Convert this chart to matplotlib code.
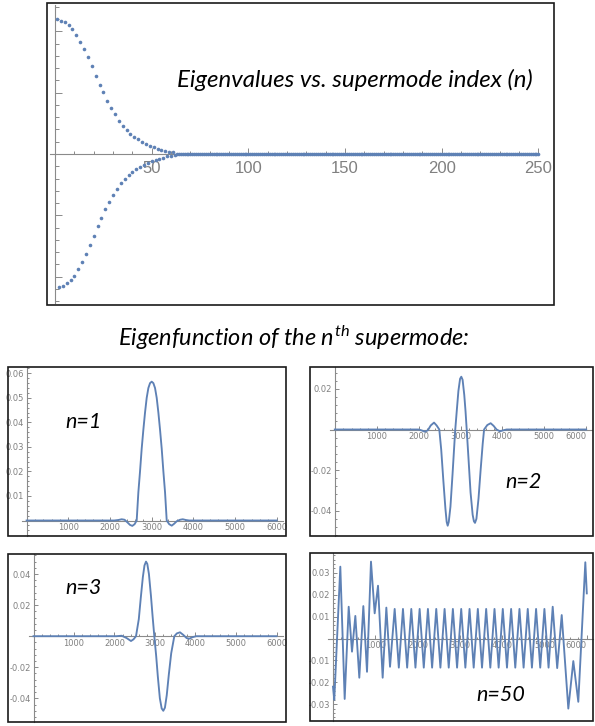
import matplotlib
matplotlib.use('Agg')
import matplotlib.pyplot as plt
from matplotlib.patches import Rectangle
from matplotlib.ticker import FixedLocator, MultipleLocator

W, H = 595, 726

# eigenvalues vs supermode index (arbitrary units): upper branch (odd n), lower branch (even n)
upper_n = list(range(1, 62, 2))
upper_vals = [2.20, 2.17, 2.15, 2.11, 2.04, 1.94, 1.83, 1.71, 1.58, 1.43, 1.28,
              1.13, 1.01, 0.86, 0.75, 0.65, 0.54, 0.45, 0.39, 0.33, 0.28, 0.24,
              0.20, 0.16, 0.13, 0.11, 0.08, 0.07, 0.05, 0.04, 0.03]
lower_n = list(range(2, 63, 2))
lower_vals = [-2.17, -2.15, -2.11, -2.05, -1.99, -1.88, -1.76, -1.63, -1.48, -1.33,
              -1.18, -1.05, -0.90, -0.78, -0.67, -0.57, -0.48, -0.40, -0.34, -0.29,
              -0.24, -0.21, -0.18, -0.15, -0.12, -0.10, -0.08, -0.06, -0.04, -0.03, -0.02]
flat_n = list(range(63, 251))
flat_vals = [0.0] * len(flat_n)

# eigenfunctions (position, amplitude)
x1 = [0, 2000, 2100, 2200, 2280, 2350, 2420, 2480, 2535, 2590, 2640, 2680, 2720,
      2760, 2800, 2840, 2880, 2920, 2960, 3000, 3040, 3080, 3120, 3160, 3200,
      3240, 3280, 3320, 3360, 3420, 3480, 3540, 3600, 3680, 3745, 3820, 3900, 6000]
y1 = [0, 0, 0, 0.0002, 0.0005, 0.0003, -0.0008, -0.0018, -0.0022, -0.0015, 0.0,
      0.0115, 0.0200, 0.0293, 0.0370, 0.0440, 0.0500, 0.0540, 0.0560, 0.0566,
      0.0560, 0.0540, 0.0500, 0.0440, 0.0370, 0.0293, 0.0200, 0.0115, 0.0,
      -0.0015, -0.0021, -0.0013, -0.0003, 0.0003, 0.0005, 0.0002, 0, 0]

x2 = [0, 2000, 2080, 2148, 2220, 2290, 2368, 2430, 2494, 2540, 2590, 2640, 2670,
      2694, 2720, 2760, 2810, 2845, 2875, 2910, 2950, 2990, 3019, 3050, 3090,
      3120, 3148, 3190, 3240, 3290, 3320, 3346, 3380, 3430, 3480, 3530, 3563,
      3640, 3720, 3790, 3860, 3942, 4020, 4100, 6000]
y2 = [0, 0, -0.0005, -0.0011, -0.0004, 0.0020, 0.0034, 0.0020, 0.0, -0.010,
      -0.025, -0.039, -0.0455, -0.0474, -0.0455, -0.038, -0.022, -0.010, 0.0,
      0.009, 0.019, 0.025, 0.026, 0.0245, 0.017, 0.009, 0.0, -0.014, -0.031,
      -0.042, -0.0452, -0.046, -0.044, -0.034, -0.020, -0.007, 0.0, 0.0022,
      0.0031, 0.0018, 0.0, -0.0009, -0.0004, 0, 0]

x3 = [0, 2050, 2177, 2300, 2407, 2470, 2531, 2600, 2650, 2700, 2740, 2778, 2810,
      2850, 2900, 2940, 2983, 3030, 3070, 3120, 3165, 3205, 3245, 3290, 3340,
      3400, 3477, 3540, 3617, 3700, 3780, 3847, 3930, 4020, 6000]
y3 = [0, 0, 0.0003, -0.0012, -0.0031, -0.0020, 0.0, 0.011, 0.025, 0.038, 0.0455,
      0.048, 0.0465, 0.040, 0.026, 0.013, 0.0, -0.013, -0.026, -0.040, -0.0465,
      -0.048, -0.046, -0.038, -0.025, -0.011, 0.0, 0.0018, 0.0025, 0.0008,
      -0.0012, -0.0016, -0.0006, 0, 0]

x50 = [0, 30, 173, 276, 371, 449, 528, 622, 717, 804, 898, 985, 1064, 1174, 1261,
       1348, 1458, 1556, 1654, 1753, 1851, 1949, 2048, 2146, 2244, 2343, 2441,
       2539, 2638, 2736, 2834, 2933, 3031, 3129, 3228, 3326, 3424, 3523, 3621,
       3719, 3818, 3916, 4014, 4113, 4211, 4309, 4408, 4506, 4604, 4703, 4801,
       4899, 4998, 5096, 5194, 5300, 5407, 5563, 5681, 5799, 5965, 6000]
y50 = [-0.022, -0.028, 0.0328, -0.0276, 0.0145, -0.006, 0.0103, -0.0179, 0.0148,
       -0.0152, 0.0351, 0.0115, 0.0241, -0.0179, 0.0141, -0.0129, 0.0135, -0.0133,
       0.0135, -0.0133, 0.0135, -0.0133, 0.0135, -0.0133, 0.0135, -0.0133, 0.0135,
       -0.0133, 0.0135, -0.0133, 0.0135, -0.0133, 0.0135, -0.0133, 0.0135, -0.0133,
       0.0135, -0.0133, 0.0135, -0.0133, 0.0135, -0.0133, 0.0135, -0.0133, 0.0135,
       -0.0133, 0.0135, -0.0133, 0.0135, -0.0133, 0.0135, -0.0133, 0.0135, -0.0133,
       0.0145, -0.0135, 0.0107, -0.0320, -0.0103, -0.0289, 0.0348, 0.0206]

blue = '#5E81B5'
gray = '#8a8a8a'
labgray = '#808080'

plt.rcParams['mathtext.fontset'] = 'custom'
plt.rcParams['mathtext.rm'] = 'Lato:italic'
plt.rcParams['mathtext.it'] = 'Lato:italic'

fig = plt.figure(figsize=(W / 100, H / 100), dpi=100)


def box(x0, y0, x1, y1):
    return [x0 / W, 1 - y1 / H, (x1 - x0) / W, (y1 - y0) / H]


def frame(x0, y0, x1, y1):
    fig.add_artist(Rectangle((x0 / W, 1 - y1 / H), (x1 - x0) / W, (y1 - y0) / H,
                             transform=fig.transFigure, fill=False,
                             ec='#1a1a1a', lw=1.2, zorder=10))


def mma_axes(px, xlim, ylim):
    ax = fig.add_axes(box(*px))
    ax.set_xlim(xlim)
    ax.set_ylim(ylim)
    ax.patch.set_alpha(0)
    ax.spines['top'].set_visible(False)
    ax.spines['right'].set_visible(False)
    ax.spines['left'].set_position(('data', 0))
    ax.spines['bottom'].set_position(('data', 0))
    for s in ['left', 'bottom']:
        ax.spines[s].set_color(gray)
        ax.spines[s].set_linewidth(0.8)
    ax.tick_params(which='both', direction='in', color=gray, labelcolor=labgray,
                   width=0.7)
    return ax


def text(x, y, s, size, ha='left'):
    fig.text(x / W, 1 - y / H, s, fontsize=size, family='Lato', style='italic',
             ha=ha, va='baseline', color='black')


# ---- eigenvalue plot ----
frame(47.5, 2.7, 553.5, 305)
ax = mma_axes((47.5, 2.7, 553.5, 305), (-3.9, 257.8), (-2.463, 2.468))
for nn, vv in [(upper_n, upper_vals), (lower_n, lower_vals), (flat_n, flat_vals)]:
    ax.plot(nn, vv, 'o', color=blue, ms=2.6, mew=0, zorder=3)
ax.spines['bottom'].set_bounds(-2.6, 250.5)
ax.spines['left'].set_bounds(-2.43, 2.43)
ax.xaxis.set_major_locator(FixedLocator([50, 100, 150, 200, 250]))
ax.xaxis.set_minor_locator(FixedLocator([v for v in range(10, 251, 10) if v % 50]))
ax.yaxis.set_major_locator(FixedLocator([-2, -1, 1, 2]))
ax.yaxis.set_minor_locator(MultipleLocator(0.2))
ax.tick_params(axis='x', which='major', length=4, labelsize=12, pad=5)
ax.tick_params(axis='x', which='minor', length=2)
ax.tick_params(axis='y', which='major', length=5, labelleft=False)
ax.tick_params(axis='y', which='minor', length=3)
for t in ax.get_xticklabels():
    t.set_family('Liberation Sans')
text(177, 87.3, 'Eigenvalues vs. supermode index (n)', 17.3)

text(294, 345.7, r'Eigenfunction of the $n^{th}$ supermode:', 16.9, ha='center')

# ---- eigenfunction panels ----
panels = [
    # frame px, x0 px, px per 1000, y0 px, px per 0.01, data, y majors, y minor, label
    ((8.3, 367.3, 286, 536), 26.6, 41.7, 520.5, 24.53, (x1, y1),
     [0.01, 0.02, 0.03, 0.04, 0.05, 0.06], 0.002, ('n=1', 65.7, 428.3)),
    ((310, 367.3, 593, 536), 334.8, 41.9, 429.5, 20.3, (x2, y2),
     [-0.04, -0.02, 0.02], 0.004, ('n=2', 505, 488.3)),
    ((8.3, 554, 286, 721.7), 33.5, 40.5, 636.2, 15.54, (x3, y3),
     [-0.04, -0.02, 0.02, 0.04], 0.004, ('n=3', 65, 594.3)),
    ((310, 553.3, 593, 720.7), 333, 42.3, 638.5, 21.9, (x50, y50),
     [-0.03, -0.02, -0.01, 0.01, 0.02, 0.03], 0.002, ('n=50', 476.5, 701)),
]

xmaj = [1000, 2000, 3000, 4000, 5000, 6000]
xmin = [v for v in range(200, 6001, 200) if v % 1000]

for px, xo, sx, yo, sy, (xs, ys), ymaj, ymin, lab in panels:
    frame(*px)
    xl = ((px[0] - xo) / sx * 1000, (px[2] - xo) / sx * 1000)
    yl = ((yo - px[3]) / sy * 0.01, (yo - px[1]) / sy * 0.01)
    a = mma_axes(px, xl, yl)
    a.plot(xs, ys, color=blue, lw=1.35, zorder=3, solid_joinstyle='round')
    a.spines['bottom'].set_bounds(-110, min(6150, xl[1]))
    a.xaxis.set_major_locator(FixedLocator(xmaj))
    a.xaxis.set_minor_locator(FixedLocator(xmin))
    a.yaxis.set_major_locator(FixedLocator(ymaj))
    a.yaxis.set_minor_locator(MultipleLocator(ymin))
    a.set_yticklabels(['%g' % v for v in ymaj])
    a.set_xticklabels([str(v) for v in xmaj])
    a.tick_params(which='major', length=3, labelsize=6, pad=2)
    a.tick_params(which='minor', length=1.5)
    if px[2] > 590:
        # right-hand panels: keep the last label inside the picture
        a.get_xticklabels()[-1].set_horizontalalignment('right')
    text(lab[1], lab[2], lab[0], 15.5)

fig.savefig('out.png', dpi=100)
